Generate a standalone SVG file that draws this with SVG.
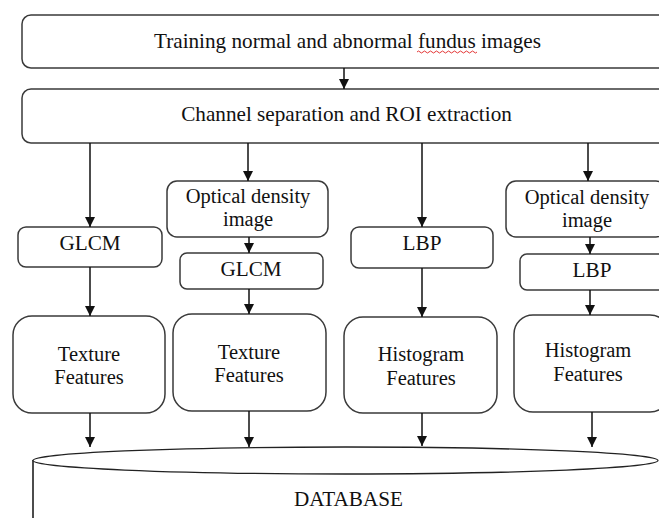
<svg xmlns="http://www.w3.org/2000/svg" width="659" height="518" viewBox="0 0 659 518">
<style>
.box{fill:#fff;stroke:#3a3a3a;stroke-width:1.5}
.t{font-family:"Liberation Serif","Times New Roman",serif;font-size:21.2px;fill:#111;text-anchor:middle}
.t2{font-size:20.5px}
.c{stroke:#111;stroke-width:1.5;fill:none}
</style>
<defs>
<marker id="ah" markerUnits="userSpaceOnUse" markerWidth="10" markerHeight="10" refX="10" refY="5" orient="auto">
<path d="M0,0 L10,5 L0,10 z" fill="#111"/>
</marker>
</defs>
<rect width="659" height="518" fill="#fff"/>
<g id="n-training">
<rect class="box" x="22" y="15" width="700" height="53" rx="9"/>
<text class="t" x="347.5" y="48">Training normal and abnormal fundus images</text>
<path d="M417,52 q1.5,-2 3,0 t3,0 t3,0 t3,0 t3,0 t3,0 t3,0 t3,0 t3,0 t3,0 t3,0 t3,0 t3,0 t3,0 t3,0 t3,0 t3,0 t3,0 t3,0 t3,0" fill="none" stroke="#e02020" stroke-width="0.9"/>
</g>
<g id="n-channel">
<rect class="box" x="22" y="89" width="700" height="54" rx="9"/>
<text class="t" x="346.5" y="121">Channel separation and ROI extraction</text>
</g>
<g id="n-glcm1">
<rect class="box" x="18" y="227" width="144" height="40" rx="8"/>
<text class="t" x="90" y="250">GLCM</text>
</g>
<g id="n-od1">
<rect class="box" x="167" y="181" width="161" height="56" rx="10"/>
<text class="t t2" x="248" y="203">Optical density</text>
<text class="t t2" x="248" y="226">image</text>
</g>
<g id="n-glcm2">
<rect class="box" x="180" y="253" width="143" height="36" rx="7"/>
<text class="t" x="251" y="276">GLCM</text>
</g>
<g id="n-lbp1">
<rect class="box" x="351" y="227" width="142" height="41" rx="8"/>
<text class="t" x="422" y="250">LBP</text>
</g>
<g id="n-od2">
<rect class="box" x="506" y="181" width="160" height="56" rx="10"/>
<text class="t t2" x="587" y="204">Optical density</text>
<text class="t t2" x="587" y="227">image</text>
</g>
<g id="n-lbp2">
<rect class="box" x="520" y="254" width="146" height="36" rx="7"/>
<text class="t" x="592" y="277">LBP</text>
</g>
<g id="n-tex1">
<rect class="box" x="13" y="316" width="152" height="97" rx="19"/>
<text class="t t2" x="89" y="361">Texture</text>
<text class="t t2" x="89" y="384">Features</text>
</g>
<g id="n-tex2">
<rect class="box" x="173" y="314" width="153" height="97" rx="19"/>
<text class="t t2" x="249" y="359">Texture</text>
<text class="t t2" x="249" y="382">Features</text>
</g>
<g id="n-hist1">
<rect class="box" x="344" y="317" width="153" height="96" rx="19"/>
<text class="t t2" x="421" y="361">Histogram</text>
<text class="t t2" x="421" y="385">Features</text>
</g>
<g id="n-hist2">
<rect class="box" x="514" y="315" width="155" height="97" rx="19"/>
<text class="t t2" x="588" y="357">Histogram</text>
<text class="t t2" x="588" y="381">Features</text>
</g>
<g id="n-database">
<path d="M33,460 L33,520" class="c" stroke="#222"/>
<ellipse cx="345.5" cy="460.5" rx="312.5" ry="13.5" fill="#fff" stroke="#222" stroke-width="1.3"/>
<text class="t" x="348.5" y="506">DATABASE</text>
</g>
<g id="connectors">
<line class="c" x1="344" y1="68" x2="344" y2="89" marker-end="url(#ah)"/>
<line class="c" x1="90" y1="143" x2="90" y2="227" marker-end="url(#ah)"/>
<line class="c" x1="248" y1="143" x2="248" y2="181" marker-end="url(#ah)"/>
<line class="c" x1="422" y1="143" x2="422" y2="227" marker-end="url(#ah)"/>
<line class="c" x1="588" y1="143" x2="588" y2="181" marker-end="url(#ah)"/>
<line class="c" x1="249" y1="237" x2="249" y2="253" marker-end="url(#ah)"/>
<line class="c" x1="590" y1="237" x2="590" y2="254" marker-end="url(#ah)"/>
<line class="c" x1="90" y1="267" x2="90" y2="316" marker-end="url(#ah)"/>
<line class="c" x1="249" y1="289" x2="249" y2="314" marker-end="url(#ah)"/>
<line class="c" x1="422" y1="268" x2="422" y2="317" marker-end="url(#ah)"/>
<line class="c" x1="590" y1="290" x2="590" y2="315" marker-end="url(#ah)"/>
<line class="c" x1="90" y1="413" x2="90" y2="447" marker-end="url(#ah)"/>
<line class="c" x1="249" y1="411" x2="249" y2="447" marker-end="url(#ah)"/>
<line class="c" x1="422" y1="413" x2="422" y2="446" marker-end="url(#ah)"/>
<line class="c" x1="592" y1="412" x2="592" y2="447" marker-end="url(#ah)"/>
</g>
</svg>
